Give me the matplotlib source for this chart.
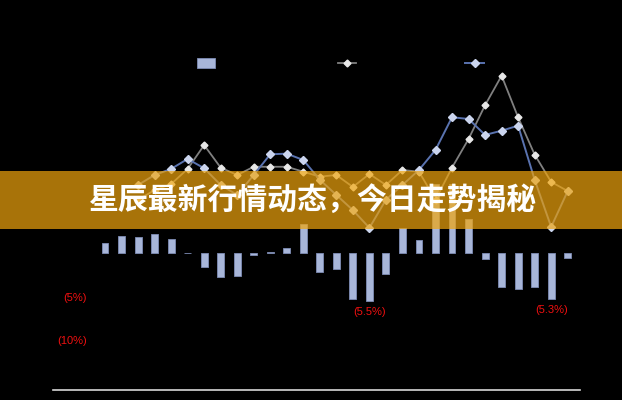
import matplotlib
matplotlib.use('Agg')
import matplotlib.pyplot as plt
import numpy as np
from matplotlib.lines import Line2D
from matplotlib.patches import Patch, Rectangle
from matplotlib.ticker import FixedLocator, FuncFormatter

plt.rcParams['font.family'] = ['Liberation Sans', 'Noto Sans CJK SC', 'DejaVu Sans']

# daily change (%) - bars
days = list(range(29))
daily_pct = [1.2, 2.0, 1.85, 2.3, 1.65, 0.1, -1.55, -2.7, -2.55, -0.2,
             0.2, 0.6, 3.4, -2.1, -1.75, -5.2, -5.5, -2.4, 2.9, 1.6,
             8.0, 8.0, 4.0, -0.6, -3.85, -4.05, -3.9, -5.3, -0.5]
labelled_days = [16, 27]

# cumulative moves (%) - lines
index_cum = [None, None, 6.2, 7.3, 8.0, 9.75, 12.5, 9.9, 9.05, 10.0,
             10.0, 10.0, 9.43, 8.86, 9.05, 7.67, 9.17, 7.9, 9.63, 9.43,
             6.2, 9.9, 13.2, 17.1, 20.5, 15.7, 11.4, 8.25, 7.2]
stock_cum = [None, None, 7.9, 9.05, 9.75, 10.9, 9.83, 7.9, 6.75, 9.05,
             11.44, 11.51, 10.78, 8.5, 6.75, 5.0, 2.95, 6.2, 7.9, 9.63,
             11.94, 15.71, 15.51, 13.67, 14.16, 14.74, 8.5, 3.06, 7.2]
legend_names = ['日涨跌幅度', '星辰指数', '星辰股价']

bar_c = '#a8b6d9'
gray_c = '#808080'
blue_c = '#5a73b0'
red_c = '#f01010'

fig = plt.figure(figsize=(6.22, 4.0), dpi=100, facecolor='black')
ax = fig.add_axes([0.1555, 0.0628, 0.7705, 0.8238])
ax.set_facecolor('black')

ax.bar(days, daily_pct, width=0.42, color=bar_c, edgecolor='#7e8db6', linewidth=0.6, zorder=2)

idx = np.array(days, dtype=float)
g = np.array([np.nan if v is None else v for v in index_cum])
b = np.array([np.nan if v is None else v for v in stock_cum])
ax.plot(idx, g, color=gray_c, lw=1.3, marker='D', ms=3.5, mfc='#e8e8e8', mec='#e8e8e8', zorder=3)
ax.plot(idx, b, color=blue_c, lw=1.4, marker='D', ms=3.8, mfc='#cbd5ee', mec='#cbd5ee', zorder=4)

for d in labelled_days:
    v = daily_pct[d]
    ax.annotate(f'({abs(v)}%)', (d, v), xytext=(0, -4), textcoords='offset points',
                ha='center', va='top', fontsize=8, color=red_c)

ax.set_xlim(-0.5, 28.5)
ax.set_ylim(-14, 24)
ax.yaxis.set_major_locator(FixedLocator([-10, -5, 0, 5, 10, 15, 20]))
ax.yaxis.set_major_formatter(FuncFormatter(
    lambda v, p: f'({abs(v):.0f}%)' if v < 0 else f'{v:.0f}%'))
ax.tick_params(axis='y', length=0, labelsize=8, pad=7)
for t in ax.get_yticklabels():
    t.set_color(red_c if t.get_text().startswith('(') else 'black')
ax.set_xticks([])
for s in ax.spines.values():
    s.set_visible(False)

handles = [Patch(facecolor=bar_c, edgecolor='#7e8db6', lw=0.6),
           Line2D([0], [0], color=gray_c, lw=1.3, marker='D', ms=3.5, mfc='#e8e8e8', mec='#e8e8e8'),
           Line2D([0], [0], color=blue_c, lw=1.4, marker='D', ms=3.8, mfc='#cbd5ee', mec='#cbd5ee')]
leg = fig.legend(handles, legend_names, loc='center left', bbox_to_anchor=(197 / 622, 1 - 64 / 400),
                 ncol=3, frameon=False, fontsize=8, labelcolor='black', handlelength=1.3,
                 handletextpad=0.8, columnspacing=3.07, borderpad=0, borderaxespad=0,
                 prop={'family': ['Noto Sans CJK SC']})

# bottom rule
fig.add_artist(Line2D([53 / 622, 580 / 622], [1 - 390 / 400] * 2, color='#d8d8d8', lw=1.2))

# title banner
fig.add_artist(Rectangle((0, 1 - 229 / 400), 1, 58 / 400, transform=fig.transFigure,
                         facecolor='#f0a50e', edgecolor='none', alpha=0.7, zorder=5))
fig.text(312.5 / 622, 1 - 200 / 400, '星辰最新行情动态，今日走势揭秘', ha='center', va='center',
         fontsize=21.5, fontweight='bold', color='white', family=['Noto Sans CJK SC'], zorder=6)

fig.savefig('out.png', dpi=100, facecolor='black')
